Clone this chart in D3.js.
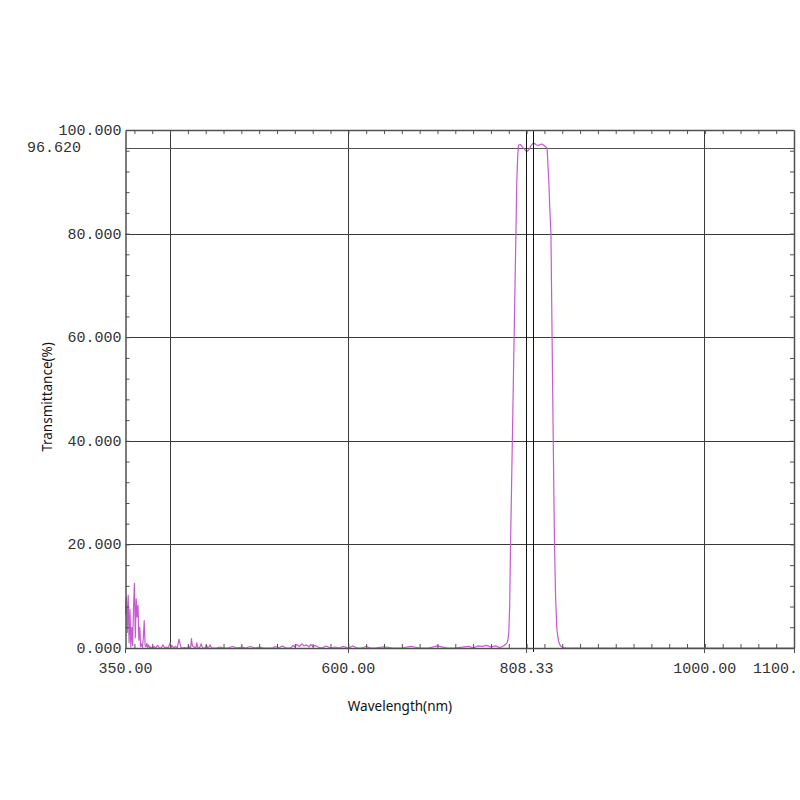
<!DOCTYPE html>
<html>
<head>
<meta charset="utf-8">
<script src="https://cdn.jsdelivr.net/npm/d3@7"></script>
<style>
  html, body { margin: 0; padding: 0; background: #fff; }
  svg { display: block; }
</style>
</head>
<body>
<script>
// ---- Data ----
const wavelength = [
  350,351,352,353,354,355,356,357,358,359,360,361,362,363,364,365,366,367,368,369,370,371,372,373,374,375,376,377,378,
  380,382,384,386,388,390,392,394,396,398,400,401,402,404,406,408,410,412,414,416,419,421,423,424,425,427,429,430,431,
  433,435,436,437,439,441,442,443,445,446,447,449,452,456,460,465,470,475,480,485,490,495,500,505,510,515,518,522,526,
  530,535,538,540,542,545,548,550,553,556,558,560,563,566,570,575,580,585,590,594,600,605,610,615,620,625,630,640,650,
  660,670,680,690,700,710,720,730,736,740,745,750,755,760,765,770,773,776,778,779,780,781,782,783,784,785,786,787,788,
  789,790,791,793,795,797,799,801,803,805,807,809,811,813,815,817,819,821,823,824,825,826,827.3,828.6,829.9,831.3,
  832.5,834,836,838,841,845,860,900,950,1000,1050,1100
];
const transmittance = [
  6.5,9.8,3.0,10.2,1.0,7.5,0.2,4.0,0.5,8.0,12.5,2.0,9.5,6.0,8.3,1.5,4.0,0.3,0.8,0.1,2.0,5.3,0.5,0.2,0.9,0.1,0.6,0.0,0.2,
  0.0,0.3,0.0,0.5,0.0,0.0,0.6,0.0,0.2,0.0,1.0,0.0,0.5,0.0,0.3,0.0,1.7,0.2,0.0,0.1,0.0,0.3,0.0,1.8,0.4,0.2,0.0,1.0,0.1,
  0.0,0.8,0.2,0.0,0.0,0.5,0.1,0.0,0.6,0.2,0.0,0.0,0.0,0.2,0.0,0.0,0.3,0.0,0.2,0.0,0.3,0.0,0.2,0.0,0.0,0.0,0.3,0.0,0.4,
  0.0,0.0,0.5,0.2,0.7,0.3,0.8,0.4,0.6,0.2,0.7,0.3,0.5,0.2,0.0,0.4,0.0,0.2,0.0,0.3,0.0,0.4,0.0,0.0,0.3,0.0,0.0,0.2,0.0,
  0.0,0.3,0.0,0.0,0.4,0.0,0.0,0.2,0.3,0.0,0.4,0.3,0.5,0.2,0.4,0.1,0.3,0.6,1.0,1.5,3.0,8.0,20,30,40,50,60,70,80,
  90,95,97.1,97.2,96.8,96.4,96.0,95.9,96.3,97.0,97.4,97.4,97.1,97.0,97.2,97.3,97.1,96.8,96.5,93,90,85,80,60,40,20,
  10,3.5,1.2,0.4,0.1,0.0,0.0,0.0,0.0,0.0,0.0,0.0
];
const xTickValues = [350, 600, 800, 1000, 1100];
const xTickLabels = ["350.00", "600.00", "808.33", "1000.00", "1100."];
const yTickValues = [0, 20, 40, 60, 80, 100];
const yTickLabels = ["0.000", "20.000", "40.000", "60.000", "80.000", "100.000"];
const xGridValues = [400, 600, 800, 1000];
const yGridValues = [20, 40, 60, 80];
const cursorX = 808.33;
const refY = 96.62;
const refYLabel = "96.620";
const xTitle = "Wavelength(nm)";
const yTitle = "Transmittance(%)";

// ---- Layout ----
const W = 800, H = 800;
const mL = 125.5, mR = 794, mT = 130, mB = 648;
const svg = d3.select("body").append("svg").attr("width", W).attr("height", H);

const x = d3.scaleLinear().domain([350, 1100]).range([mL, mR]);
const y = d3.scaleLinear().domain([0, 100]).range([mB, mT]);

const gridColor = "#3a3a3a";
const axisColor = "#505050";
const monoFont = "'Liberation Mono', 'DejaVu Sans Mono', monospace";

// grid lines
svg.append("g").selectAll("line").data(xGridValues).join("line")
  .attr("x1", d => Math.floor(x(d)) + 0.5).attr("x2", d => Math.floor(x(d)) + 0.5)
  .attr("y1", mT).attr("y2", mB)
  .attr("stroke", gridColor).attr("stroke-width", 1);
svg.append("g").selectAll("line").data(yGridValues).join("line")
  .attr("x1", mL).attr("x2", mR)
  .attr("y1", d => Math.round(y(d)) + 0.5).attr("y2", d => Math.round(y(d)) + 0.5)
  .attr("stroke", gridColor).attr("stroke-width", 1);
// reference line 96.62
svg.append("line")
  .attr("x1", mL).attr("x2", mR)
  .attr("y1", Math.round(y(refY)) + 0.5).attr("y2", Math.round(y(refY)) + 0.5)
  .attr("stroke", "#555").attr("stroke-width", 1);

// curve
const line = d3.line().x((d, i) => x(wavelength[i])).y(d => y(d));
svg.append("path").datum(transmittance)
  .attr("d", line)
  .attr("fill", "none")
  .attr("stroke", "#c65ad0")
  .attr("stroke-width", 1.2)
  .attr("stroke-linejoin", "round");

// 800 gridline redrawn over the curve, plus the cursor line
svg.append("line")
  .attr("x1", Math.floor(x(800)) + 0.5).attr("x2", Math.floor(x(800)) + 0.5)
  .attr("y1", mT).attr("y2", mB + 4)
  .attr("stroke", "#111").attr("stroke-width", 1);
svg.append("line")
  .attr("x1", Math.floor(x(cursorX)) - 0.5).attr("x2", Math.floor(x(cursorX)) - 0.5)
  .attr("y1", mT).attr("y2", mB + 4)
  .attr("stroke", "#111").attr("stroke-width", 1);

// frame via axes
const minorX = d3.range(360, 1100, 20);
const minorY = d3.range(4, 100, 4);
const axB = d3.axisBottom(x).tickValues(minorX).tickSizeInner(-4).tickSizeOuter(0).tickFormat("");
const axT = d3.axisTop(x).tickValues(minorX).tickSizeInner(-4).tickSizeOuter(0).tickFormat("");
const axL = d3.axisLeft(y).tickValues(minorY).tickSizeInner(-4).tickSizeOuter(0).tickFormat("");
const axR = d3.axisRight(y).tickValues(minorY).tickSizeInner(-4).tickSizeOuter(0).tickFormat("");
function styleAxis(g) {
  g.selectAll("path").attr("stroke", axisColor).attr("stroke-width", 1.5);
  g.selectAll("line").attr("stroke", axisColor);
}
svg.append("g").attr("transform", `translate(0,${mB})`).call(axB).call(styleAxis);
svg.append("g").attr("transform", `translate(0,${mT})`).call(axT).call(styleAxis);
svg.append("g").attr("transform", `translate(${mL},0)`).call(axL).call(styleAxis);
svg.append("g").attr("transform", `translate(${mR},0)`).call(axR).call(styleAxis);

// major tick marks on bottom (outward)
svg.append("g").selectAll("line").data(xTickValues).join("line")
  .attr("x1", d => Math.floor(x(d)) + 0.5).attr("x2", d => Math.floor(x(d)) + 0.5)
  .attr("y1", mB).attr("y2", mB + 5)
  .attr("stroke", axisColor);

// tick labels (last one kept inside the page edge)
svg.append("g").selectAll("text").data(xTickValues).join("text")
  .attr("x", (d, i) => i === xTickValues.length - 1 ? W - 2 : x(d))
  .attr("y", mB + 25)
  .attr("text-anchor", (d, i) => i === xTickValues.length - 1 ? "end" : "middle")
  .attr("font-family", monoFont).attr("font-size", 15).attr("fill", "#333")
  .text((d, i) => xTickLabels[i]);
svg.append("g").selectAll("text").data(yTickValues).join("text")
  .attr("x", mL - 4).attr("y", d => y(d) + 5)
  .attr("text-anchor", "end")
  .attr("font-family", monoFont).attr("font-size", 15).attr("fill", "#333")
  .text((d, i) => yTickLabels[i]);
svg.append("text")
  .attr("x", 27).attr("y", y(refY) + 4)
  .attr("text-anchor", "start")
  .attr("font-family", monoFont).attr("font-size", 15).attr("fill", "#333")
  .text(refYLabel);

// axis titles
svg.append("text")
  .attr("x", 400).attr("y", 711)
  .attr("text-anchor", "middle")
  .attr("font-family", "'Noto Sans', sans-serif").attr("font-size", 13.5).attr("fill", "#111")
  .text(xTitle);
svg.append("text")
  .attr("transform", "translate(52,397) rotate(-90)")
  .attr("text-anchor", "middle")
  .attr("font-family", "'Noto Sans', sans-serif").attr("font-size", 13.5).attr("fill", "#111")
  .text(yTitle);
</script>
</body>
</html>
